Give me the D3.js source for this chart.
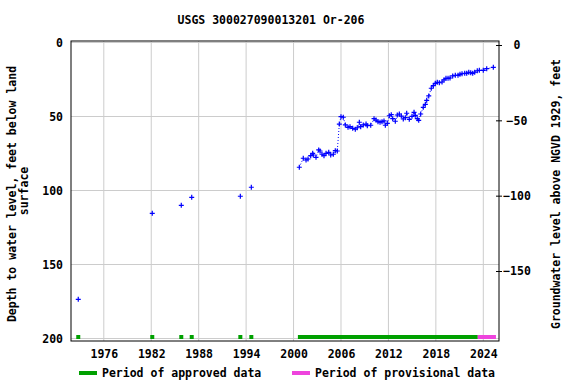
<!DOCTYPE html>
<html>
<head>
<meta charset="utf-8">
<script src="https://cdn.jsdelivr.net/npm/d3@7"></script>
<style>
  body { margin: 0; background: #fff; }
  text { font-family: "DejaVu Sans Mono", monospace; font-weight: bold; font-size: 11.5px; fill: #000; }
</style>
</head>
<body>
<figure id="chart" style="margin:0"></figure>
<script>
// early sparse measurements
const earlyYears = [1972.77, 1982.13, 1985.80, 1987.12, 1993.27, 1994.66];
const earlyDepths = [173.5, 115.4, 110.0, 104.6, 103.9, 97.8];

// continuous record since 2000
const recentYears = [
  2000.73, 2001.23, 2001.58, 2001.83, 2002.17, 2002.42, 2002.50, 2002.84, 2003.18, 2003.35,
  2003.60, 2003.85, 2004.11, 2004.45, 2004.70, 2005.03, 2005.28, 2005.53, 2005.79, 2006.00,
  2006.29, 2006.55, 2006.89, 2007.14, 2007.48, 2007.81, 2008.06, 2008.32, 2008.49, 2008.82,
  2009.17, 2009.33, 2009.76, 2010.18, 2010.43, 2010.68, 2010.94, 2011.19, 2011.44, 2011.61,
  2011.86, 2012.11, 2012.36, 2012.54, 2012.87, 2013.12, 2013.38, 2013.63, 2013.88, 2014.14,
  2014.31, 2014.64, 2014.98, 2015.24, 2015.40, 2015.65, 2015.83, 2016.08, 2016.41, 2016.67,
  2016.84, 2017.10, 2017.42, 2017.68, 2017.93, 2018.18, 2018.44, 2018.78, 2019.03, 2019.28,
  2019.54, 2019.79, 2020.13, 2020.46, 2020.80, 2021.05, 2021.31, 2021.65, 2021.90, 2022.16,
  2022.41, 2022.66, 2022.91, 2023.24, 2023.50, 2024.00, 2024.43, 2025.27
];
const recentDepths = [
  84.3, 78.2, 79.4, 78.7, 76.5, 74.9, 76.0, 77.6, 72.6, 73.3,
  75.5, 76.5, 74.9, 74.2, 76.0, 75.5, 73.1, 73.3, 55.1, 50.1,
  50.5, 55.7, 57.3, 56.9, 58.0, 58.6, 57.6, 53.9, 56.9, 55.7,
  55.1, 56.2, 55.9, 51.5, 52.4, 53.5, 53.9, 53.5, 53.0, 55.9,
  54.6, 49.5, 48.8, 51.5, 53.2, 49.0, 48.3, 49.7, 51.7, 50.8,
  47.8, 51.9, 49.9, 47.2, 49.2, 51.5, 52.6, 48.3, 43.8, 41.8,
  39.1, 36.1, 30.9, 29.2, 27.6, 26.9, 27.2, 26.7, 25.3, 24.2,
  24.2, 24.0, 22.6, 22.2, 22.2, 21.5, 21.1, 20.8, 20.8, 20.1,
  20.4, 20.8, 20.1, 19.1, 18.8, 18.8, 17.7, 16.8
];

const approvedPoints = [1972.77, 1982.13, 1985.80, 1987.12, 1993.27, 1994.66];
const approvedRange = [2000.55, 2023.3];
const provisionalRange = [2023.3, 2025.6];

const xTicks = [1976, 1982, 1988, 1994, 2000, 2006, 2012, 2018, 2024];
const leftTicks = [0, 50, 100, 150, 200];
const rightTicks = [0, -50, -100, -150];

const width = 576, height = 384;
const plot = { left: 71, right: 499, top: 41, bottom: 341 };
const green = "#00a000", pink = "#ee44dd", blue = "#0000ff";

const svg = d3.select("figure#chart")
  .append("svg")
  .attr("width", width)
  .attr("height", height);

const x = d3.scaleLinear().domain([1976, 2024]).range([103.8, 483.3]);
const y = d3.scaleLinear().domain([0, 200]).range([42.5, 338.5]);
const yRight = d3.scaleLinear().domain([0, -150]).range([45, 271]);

// grid
svg.append("g").selectAll("line.v")
  .data(xTicks).enter().append("line")
  .attr("x1", d => x(d)).attr("x2", d => x(d))
  .attr("y1", plot.top).attr("y2", plot.bottom)
  .attr("stroke", "#cccccc").attr("stroke-width", 1);

svg.append("g").selectAll("line.h")
  .data(leftTicks).enter().append("line")
  .attr("x1", plot.left).attr("x2", plot.right)
  .attr("y1", d => y(d)).attr("y2", d => y(d))
  .attr("stroke", "#cccccc").attr("stroke-width", 1);

// left axis labels
svg.append("g")
  .attr("transform", "translate(" + plot.left + ",0)")
  .call(d3.axisLeft(y).tickValues(leftTicks).tickSize(0).tickPadding(8))
  .call(g => g.select(".domain").remove())
  .selectAll("text")
  .style("font-family", "DejaVu Sans Mono").style("font-size", "11.5px").style("font-weight", "bold");

// right axis
svg.append("g")
  .attr("transform", "translate(" + plot.right + ",0)")
  .call(d3.axisRight(yRight).tickValues(rightTicks).tickSize(3).tickPadding(6))
  .call(g => g.select(".domain").remove())
  .call(g => g.selectAll(".tick line").attr("x1", -3).attr("stroke", "#000"))
  .selectAll("text")
  .attr("x", 18).attr("text-anchor", "middle")
  .style("font-family", "DejaVu Sans Mono").style("font-size", "11.5px").style("font-weight", "bold");

// bottom axis labels
svg.append("g")
  .attr("transform", "translate(0," + plot.bottom + ")")
  .call(d3.axisBottom(x).tickValues(xTicks).tickFormat(d3.format("d")).tickSize(0).tickPadding(9))
  .call(g => g.select(".domain").remove())
  .selectAll("text")
  .style("font-family", "DejaVu Sans Mono").style("font-size", "11.5px").style("font-weight", "bold");

// approval periods
svg.append("g").selectAll("rect")
  .data(approvedPoints).enter().append("rect")
  .attr("x", d => x(d) - 2).attr("y", 335).attr("width", 4).attr("height", 4)
  .attr("fill", green);

svg.append("rect")
  .attr("x", x(approvedRange[0])).attr("y", 335)
  .attr("width", x(approvedRange[1]) - x(approvedRange[0])).attr("height", 4)
  .attr("fill", green);

svg.append("rect")
  .attr("x", x(provisionalRange[0])).attr("y", 335)
  .attr("width", x(provisionalRange[1]) - x(provisionalRange[0])).attr("height", 4)
  .attr("fill", pink);

// dotted connection of the recent record
const recent = recentYears.map((yr, i) => [yr, recentDepths[i]]);
const early = earlyYears.map((yr, i) => [yr, earlyDepths[i]]);

svg.append("path")
  .datum(recent)
  .attr("d", d3.line().x(d => x(d[0])).y(d => y(d[1])))
  .attr("fill", "none")
  .attr("stroke", blue)
  .attr("stroke-width", 1)
  .attr("stroke-dasharray", "1,2");

const plus = d => "M" + (x(d[0]) - 2.5) + "," + y(d[1]) + "h5M" + x(d[0]) + "," + (y(d[1]) - 2.5) + "v5";

svg.append("g").selectAll("path")
  .data(early.concat(recent)).enter().append("path")
  .attr("d", plus)
  .attr("stroke", blue)
  .attr("stroke-width", 1.2)
  .attr("fill", "none");

// frame
svg.append("rect")
  .attr("x", plot.left).attr("y", plot.top)
  .attr("width", plot.right - plot.left).attr("height", plot.bottom - plot.top)
  .attr("fill", "none").attr("stroke", "#000").attr("stroke-width", 1);

// titles
svg.append("text")
  .attr("x", 271).attr("y", 24).attr("text-anchor", "middle")
  .text("USGS 300027090013201 Or-206");

svg.append("text")
  .attr("transform", "translate(16,194)rotate(-90)")
  .attr("text-anchor", "middle")
  .text("Depth to water level, feet below land");

svg.append("text")
  .attr("transform", "translate(28,191)rotate(-90)")
  .attr("text-anchor", "middle")
  .text("surface");

svg.append("text")
  .attr("transform", "translate(560,194)rotate(-90)")
  .attr("text-anchor", "middle")
  .text("Groundwater level above NGVD 1929, feet");

// legend
svg.append("line")
  .attr("x1", 79).attr("x2", 97).attr("y1", 373).attr("y2", 373)
  .attr("stroke", green).attr("stroke-width", 4);
svg.append("text").attr("x", 102).attr("y", 377).text("Period of approved data");

svg.append("line")
  .attr("x1", 292).attr("x2", 310).attr("y1", 373).attr("y2", 373)
  .attr("stroke", pink).attr("stroke-width", 4);
svg.append("text").attr("x", 315).attr("y", 377).text("Period of provisional data");
</script>
</body>
</html>
